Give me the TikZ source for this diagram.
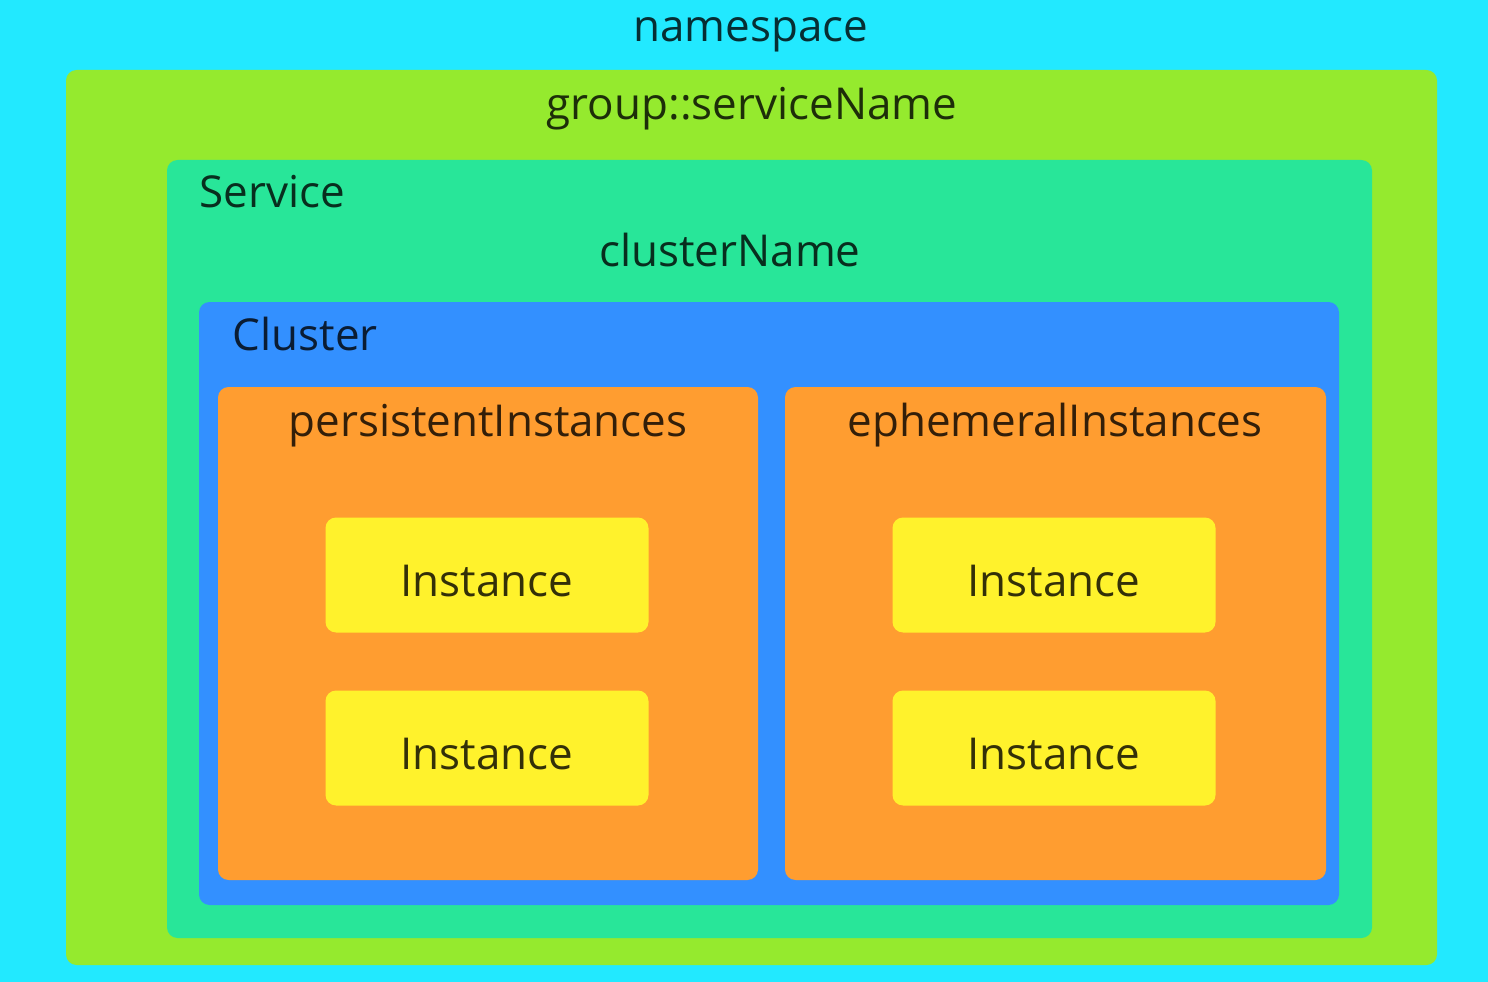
\documentclass[tikz,border=0pt]{standalone}
\usepackage{fontspec}
\setmainfont{Open Sans}
\begin{document}
\begin{tikzpicture}[x=0.01cm,y=-0.01cm,
  box/.style={rounded corners=3pt, draw=none},
  lbl/.style={anchor=base, inner sep=0pt, text=black, text opacity=0.8,
    font=\fontsize{12.5}{15}\selectfont},
  lbll/.style={lbl, anchor=base west}]
\definecolor{nsC}{HTML}{22E9FF}
\definecolor{grpC}{HTML}{95EA2E}
\definecolor{svcC}{HTML}{28E699}
\definecolor{cluC}{HTML}{3390FF}
\definecolor{setC}{HTML}{FF9D30}
\definecolor{insC}{HTML}{FFF22C}
% namespace background
\fill[nsC] (0,0) rectangle (1488,982);
\useasboundingbox (0,0) rectangle (1488,982);
% nested containers
\fill[box, grpC] (66,70) rectangle (1437,965);
\fill[box, svcC] (167,160) rectangle (1372,938);
\fill[box, cluC] (199,302) rectangle (1339,905);
\fill[box, setC] (218,387) rectangle (758,880);
\fill[box, setC] (785,387) rectangle (1326,880);
% instances
\node[box, fill=insC, minimum width=323*0.01cm, minimum height=115*0.01cm] (i1) at (487,575) {};
\node[box, fill=insC, minimum width=323*0.01cm, minimum height=115*0.01cm] (i2) at (487,748) {};
\node[box, fill=insC, minimum width=323*0.01cm, minimum height=115*0.01cm] (i3) at (1054,575) {};
\node[box, fill=insC, minimum width=323*0.01cm, minimum height=115*0.01cm] (i4) at (1054,748) {};
% labels
\node[lbl] (tns) at (751,42) {namespace};
\node[lbl] (tgrp) at (752,120) {group::serviceName};
\node[lbll] (tsvc) at (199,208) {Service};
\node[lbl] (tcn) at (730,266) {clusterName};
\node[lbll] (tclu) at (232,350) {Cluster};
\node[lbl] (tpi) at (488,436) {persistentInstances};
\node[lbl] (tei) at (1055,436) {ephemeralInstances};
\node[lbl] (ti1) at (487,596) {Instance};
\node[lbl] (ti2) at (487,769) {Instance};
\node[lbl] (ti3) at (1054,596) {Instance};
\node[lbl] (ti4) at (1054,769) {Instance};
\end{tikzpicture}
\end{document}
